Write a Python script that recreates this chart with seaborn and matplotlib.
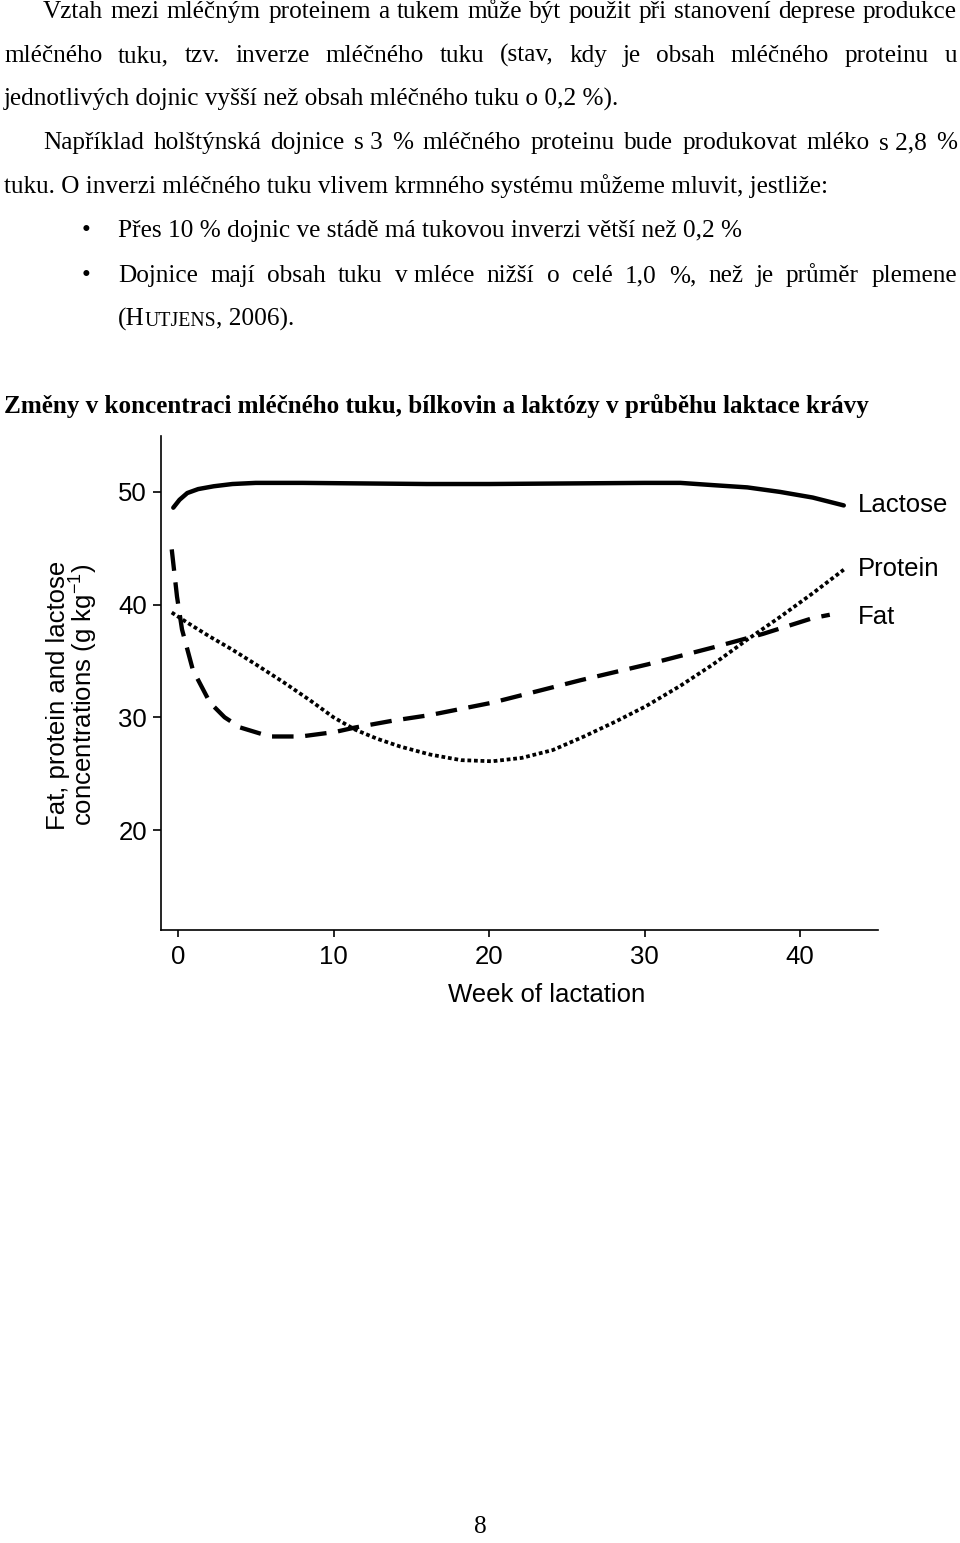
import numpy as np
import pandas as pd
import matplotlib
matplotlib.use("Agg")
import matplotlib.pyplot as plt
import seaborn as sns

# ---------------- data ----------------
lactose_week = [-0.3, 0.1, 0.6, 1.3, 2.3, 3.5, 5.0, 8.0, 12.0, 16.0, 20.0, 25.0, 30.0,
                32.3, 34.4, 36.6, 38.7, 40.8, 42.8]
lactose_val = [48.6, 49.3, 49.9, 50.25, 50.5, 50.7, 50.8, 50.8, 50.75, 50.7, 50.7, 50.75, 50.8,
               50.8, 50.6, 50.4, 50.0, 49.5, 48.8]

protein_week = [-0.4, 0.6, 2.0, 3.5, 5.0, 6.8, 8.5, 10.0, 11.4, 12.8, 14.3, 16.2, 18.2, 20.2,
                22.1, 24.1, 26.1, 28.1, 30.1, 32.3, 34.4, 36.6, 38.7, 40.8, 42.8]
protein_val = [39.3, 38.4, 37.2, 36.0, 34.7, 33.1, 31.5, 30.0, 28.9, 28.1, 27.4, 26.7, 26.2, 26.1,
               26.4, 27.1, 28.3, 29.6, 31.0, 32.8, 34.7, 36.9, 38.9, 41.0, 43.1]

fat_week = [-0.4, -0.06, 0.26, 0.96, 2.06, 3.0, 4.0, 5.9, 7.9, 10.1, 11.4, 13.8, 16.2, 20.2,
            25.9, 30.2, 34.4, 37.6, 40.8, 41.9]
fat_val = [44.9, 40.7, 37.8, 34.2, 31.3, 30.0, 29.1, 28.3, 28.3, 28.7, 29.1, 29.7, 30.2, 31.3,
           33.3, 34.7, 36.2, 37.4, 38.8, 39.1]

series_labels = ["Lactose", "Protein", "Fat"]
label_pos_y = [48.2, 42.5, 38.3]
x_ticks = [0, 10, 20, 30, 40]
y_ticks = [20, 30, 40, 50]
x_label = "Week of lactation"
y_label = "Fat, protein and lactose\nconcentrations (g kg$\\mathregular{^{-1}}$)"

para_lines = [
    ("Vztah mezi mléčným proteinem a tukem může být použit při stanovení deprese produkce", 43, 18, True),
    ("mléčného tuku, tzv. inverze mléčného tuku (stav, kdy je obsah mléčného proteinu u", 4, 62, True),
    ("jednotlivých dojnic vyšší než obsah mléčného tuku o 0,2 %).", 4, 106, False),
    ("Například holštýnská dojnice s\u00a03 % mléčného proteinu bude produkovat mléko s\u00a02,8 %", 43, 149, True),
    ("tuku. O inverzi mléčného tuku vlivem krmného systému můžeme mluvit, jestliže:", 4, 193, False),
    ("Přes 10 % dojnic ve stádě má tukovou inverzi větší než 0,2 %", 118, 237, False),
    ("Dojnice mají obsah tuku v\u00a0mléce nižší o celé 1,0 %, než je průměr plemene", 118, 282, True),
]
bullet_y = [237, 282]
heading = "Změny v koncentraci mléčného tuku, bílkovin a laktózy v průběhu laktace krávy"
page_number = "8"

# ---------------- figure ----------------
W, H = 960, 1543
sns.set_theme(style="ticks")
plt.rcParams["font.family"] = ["Liberation Sans", "DejaVu Sans"]
plt.rcParams["mathtext.fontset"] = "custom"
plt.rcParams["mathtext.rm"] = "Liberation Sans"
plt.rcParams["mathtext.it"] = "Liberation Sans:italic"
plt.rcParams["mathtext.bf"] = "Liberation Sans:bold"

fig = plt.figure(figsize=(W / 100, H / 100), dpi=100)
fig.patch.set_facecolor("white")
renderer = fig.canvas.get_renderer()

SERIF = ["Liberation Serif", "DejaVu Serif"]


def fx(x):
    return x / W


def fy(y):
    return 1 - y / H


def put(x, y, s, **kw):
    kw.setdefault("va", "baseline")
    kw.setdefault("ha", "left")
    return fig.text(fx(x), fy(y), s, color="black", **kw)


def text_width(s, size, weight="normal"):
    t = fig.text(0, 0, s, fontsize=size, family=SERIF, fontweight=weight)
    w = t.get_window_extent(renderer).width
    t.remove()
    return w


# calibrate body font size on the unjustified line (4 -> 830 px)
base = 16.0
body_size = base * 826.0 / text_width(para_lines[4][0], base)
head_size = base * 869.0 / text_width(heading, base, "bold")

RIGHT = 957
for s, x0, yb, just in para_lines:
    if not just:
        put(x0, yb, s, fontsize=body_size, family=SERIF)
        continue
    words = s.split(" ")
    widths = [text_width(w, body_size) for w in words]
    gap = (RIGHT - x0 - sum(widths)) / (len(words) - 1)
    x = x0
    for w, wd in zip(words, widths):
        put(x, yb, w, fontsize=body_size, family=SERIF)
        x += wd + gap

for yb in bullet_y:
    put(86, yb, "\u2022", fontsize=body_size, family=SERIF, ha="center")

# (HUTJENS, 2006). with small caps
x = 118
for part, scale in [("(H", 1.0), ("UTJENS", 0.78), (", 2006).", 1.0)]:
    put(x, 326, part, fontsize=body_size * scale, family=SERIF)
    x += text_width(part, body_size * scale)

put(4, 413, heading, fontsize=head_size, family=SERIF, fontweight="bold")
put(480, 1533, page_number, fontsize=body_size, family=SERIF, ha="center")

# ---------------- chart ----------------
ax = fig.add_axes([fx(161), fy(930), (878 - 161) / W, (930 - 436) / H])
ax.set_facecolor("white")

df_l = pd.DataFrame({"week": lactose_week, "value": lactose_val})
df_p = pd.DataFrame({"week": protein_week, "value": protein_val})
df_f = pd.DataFrame({"week": fat_week, "value": fat_val})

sns.lineplot(data=df_l, x="week", y="value", ax=ax, color="black", lw=3.2,
             solid_capstyle="round")
sns.lineplot(data=df_p, x="week", y="value", ax=ax, color="black", lw=2.7,
             linestyle=(0, (1.0, 0.75)), dash_capstyle="butt")
sns.lineplot(data=df_f, x="week", y="value", ax=ax, color="black", lw=3.1,
             linestyle=(0, (5.0, 2.7)), dash_capstyle="butt")

ax.set_xlim(-1.09, 45.0)
ax.set_ylim(11.13, 54.96)
ax.set_xticks(x_ticks)
ax.set_yticks(y_ticks)
ax.set_xlabel("")
ax.set_ylabel("")
sns.despine(ax=ax)
for sp in ["left", "bottom"]:
    ax.spines[sp].set_linewidth(1.2)
    ax.spines[sp].set_color("black")
ax.tick_params(axis="y", length=5.8, width=1.2, pad=4.3, labelsize=18.5, colors="black")
ax.tick_params(axis="x", length=5.0, width=1.2, pad=5.8, labelsize=18.5, colors="black")

for lab, yv in zip(series_labels, label_pos_y):
    ax.text(43.7, yv, lab, fontsize=18.5, va="baseline", ha="left", color="black",
            clip_on=False)

fig.text(fx(547), fy(995), x_label, fontsize=18.5, ha="center", va="center", color="black")
fig.text(fx(73), fy(695), y_label, fontsize=18.5, ha="center", va="center",
         rotation=90, multialignment="center", linespacing=0.92, color="black")

fig.savefig("out.png", dpi=100, facecolor="white")
